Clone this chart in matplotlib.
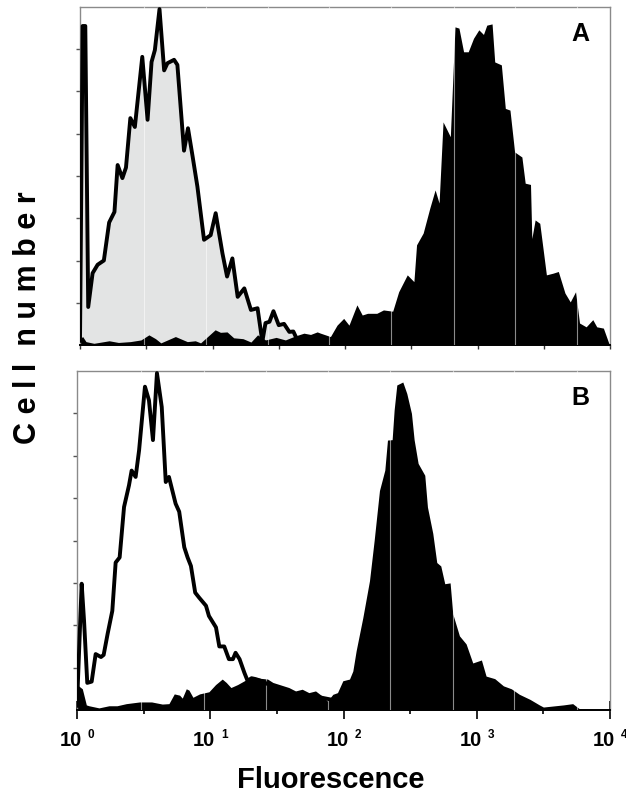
import numpy as np
import matplotlib
matplotlib.use("Agg")
import matplotlib.pyplot as plt
from matplotlib.ticker import FixedLocator, NullFormatter

plt.rcParams['font.family'] = ['Liberation Sans', 'DejaVu Sans']

# Painel A - controle (cinza) e amostra marcada (preto), x em log10
a_ctrl_log = [0.0, 0.02, 0.04, 0.062, 0.095, 0.133, 0.18, 0.22, 0.26, 0.284, 0.32, 0.347,
              0.38, 0.414, 0.47, 0.51, 0.54, 0.565, 0.60, 0.635, 0.66, 0.71, 0.735, 0.785,
              0.815, 0.85, 0.886, 0.936, 0.986, 1.024, 1.075, 1.11, 1.15, 1.19, 1.24, 1.29,
              1.34, 1.376, 1.40, 1.43, 1.46, 1.50, 1.54, 1.58, 1.61, 1.64, 1.75]
a_ctrl_val = [0.1, 7.55, 7.55, 0.9, 1.7, 1.9, 2.0, 2.9, 3.15, 4.26, 3.95, 4.2,
              5.37, 5.16, 6.82, 5.33, 6.7, 6.98, 7.95, 6.5, 6.67, 6.75, 6.63, 4.6,
              5.13, 4.46, 3.75, 2.49, 2.6, 3.12, 2.17, 1.62, 2.05, 1.14, 1.34, 0.83,
              0.87, 0.08, 0.52, 0.55, 0.8, 0.47, 0.5, 0.31, 0.32, 0.12, 0.05]

a_amostra_log = [0.0, 0.02, 0.045, 0.105, 0.22, 0.29, 0.38, 0.46, 0.52, 0.57, 0.61, 0.72,
                 0.81, 0.87, 0.91, 1.02, 1.06, 1.11, 1.16, 1.23, 1.29, 1.34, 1.40, 1.48,
                 1.55, 1.63, 1.69, 1.74, 1.79, 1.815, 1.89, 1.94, 1.99, 2.03, 2.09, 2.13,
                 2.17, 2.24, 2.29, 2.36, 2.405, 2.47, 2.52, 2.54, 2.59, 2.64, 2.68, 2.71,
                 2.74, 2.77, 2.795, 2.83, 2.86, 2.895, 2.93, 2.97, 3.01, 3.045, 3.07, 3.11,
                 3.13, 3.18, 3.21, 3.245, 3.28, 3.335, 3.36, 3.40, 3.41, 3.435, 3.47, 3.52,
                 3.57, 3.61, 3.66, 3.70, 3.74, 3.77, 3.82, 3.87, 3.90, 3.95, 3.99, 4.0]
a_amostra_val = [0.15, 0.2, 0.08, 0.04, 0.1, 0.06, 0.08, 0.12, 0.24, 0.15, 0.05, 0.2,
                 0.08, 0.1, 0.05, 0.36, 0.3, 0.31, 0.17, 0.15, 0.07, 0.24, 0.12, 0.18,
                 0.12, 0.22, 0.28, 0.25, 0.31, 0.28, 0.2, 0.47, 0.63, 0.47, 0.95, 0.71,
                 0.75, 0.75, 0.83, 0.8, 1.26, 1.66, 1.5, 2.37, 2.65, 3.24, 3.67, 3.36,
                 5.28, 5.09, 4.93, 7.53, 7.5, 6.94, 6.94, 7.26, 7.46, 7.35, 7.57, 7.6,
                 6.7, 6.63, 5.6, 5.56, 4.57, 4.45, 3.83, 3.8, 2.52, 2.96, 2.88, 1.66,
                 1.7, 1.74, 1.23, 1.02, 1.26, 0.52, 0.43, 0.6, 0.43, 0.4, 0.05, 0.0]

# Painel B - controle (contorno) e amostra marcada (preto)
b_ctrl_log = [0.0, 0.035, 0.053, 0.077, 0.11, 0.14, 0.18, 0.20, 0.23, 0.265, 0.29, 0.32,
              0.353, 0.39, 0.41, 0.44, 0.466, 0.51, 0.54, 0.57, 0.60, 0.636, 0.666, 0.69,
              0.74, 0.767, 0.805, 0.83, 0.855, 0.887, 0.917, 0.968, 0.99, 1.043, 1.068,
              1.105, 1.14, 1.17, 1.19, 1.22, 1.256, 1.28, 1.31, 1.34, 1.37, 1.44, 1.56,
              1.67, 1.82, 1.9]
b_ctrl_val = [0.1, 2.98, 2.1, 0.64, 0.67, 1.32, 1.25, 1.3, 1.8, 2.34, 3.48, 3.6,
              4.79, 5.3, 5.65, 5.5, 6.13, 7.63, 7.31, 6.37, 7.95, 7.15, 5.38, 5.5,
              4.87, 4.68, 3.84, 3.6, 3.4, 2.77, 2.65, 2.46, 2.22, 1.95, 1.5,
              1.5, 1.2, 1.2, 1.35, 1.2, 0.88, 0.69, 0.75, 0.73, 0.7, 0.6, 0.45,
              0.35, 0.3, 0.25]

b_amostra_log = [0.0, 0.04, 0.07, 0.09, 0.165, 0.24, 0.30, 0.37, 0.47, 0.56, 0.64, 0.69,
                 0.73, 0.77, 0.79, 0.82, 0.84, 0.87, 0.92, 0.99, 1.04, 1.09, 1.12, 1.155,
                 1.205, 1.256, 1.306, 1.37, 1.43, 1.47, 1.52, 1.59, 1.64, 1.69, 1.74, 1.79,
                 1.84, 1.88, 1.92, 1.955, 1.995, 2.045, 2.07, 2.095, 2.145, 2.195, 2.23, 2.27,
                 2.31, 2.33, 2.365, 2.38, 2.40, 2.445, 2.475, 2.51, 2.53, 2.56, 2.61, 2.63,
                 2.67, 2.70, 2.73, 2.76, 2.80, 2.82, 2.87, 2.92, 2.97, 3.035, 3.07, 3.135,
                 3.20, 3.26, 3.32, 3.40, 3.47, 3.50, 3.59, 3.65, 3.72, 3.77, 3.89, 4.0]
b_amostra_val = [0.6, 0.5, 0.12, 0.1, 0.05, 0.1, 0.1, 0.15, 0.19, 0.19, 0.14, 0.15,
                 0.38, 0.35, 0.28, 0.5, 0.47, 0.3, 0.38, 0.43, 0.6, 0.73, 0.65, 0.53,
                 0.6, 0.69, 0.77, 0.75, 0.73, 0.65, 0.6, 0.53, 0.45, 0.49, 0.41, 0.45,
                 0.33, 0.21, 0.37, 0.41, 0.69, 0.73, 0.92, 1.4, 2.18, 3.05, 4.0, 5.18,
                 5.66, 6.37, 6.38, 7.08, 7.67, 7.74, 7.47, 7.0, 6.38, 5.82, 5.54, 4.79,
                 4.17, 3.48, 3.4, 2.98, 3.0, 2.27, 1.75, 1.56, 1.11, 1.18, 0.8, 0.74,
                 0.57, 0.5, 0.37, 0.25, 0.12, 0.07, 0.1, 0.12, 0.15, 0.03, 0.02, 0.02]

decadas = [0, 1, 2, 3, 4]
meias_decadas = [0.5, 1.5, 2.5, 3.5]
linhas_grade = [0.48, 0.95, 1.42, 1.88, 2.35, 2.82, 3.28, 3.75]

fig = plt.figure(figsize=(6.26, 7.97), dpi=100)
ax_a = fig.add_axes([80 / 626, 1 - 345 / 797, 530 / 626, 338 / 797])
ax_b = fig.add_axes([77 / 626, 1 - 710 / 797, 533 / 626, 339 / 797])


def preparar(ax):
    ax.set_xscale('log')
    ax.set_xlim(1, 1e4)
    ax.set_ylim(0, 8)
    for lado in ['top', 'right', 'left']:
        ax.spines[lado].set_color('#8a8a8a')
        ax.spines[lado].set_linewidth(1.0)
    ax.spines['bottom'].set_color('black')
    ax.spines['bottom'].set_linewidth(1.4)
    ax.yaxis.set_major_locator(FixedLocator(range(1, 8)))
    ax.yaxis.set_major_formatter(NullFormatter())
    ax.tick_params(axis='y', direction='out', length=3, width=1, color='#555555')
    for g in linhas_grade:
        ax.axvline(10 ** g, color='white', alpha=0.55, lw=0.8, zorder=3)


# Painel A
preparar(ax_a)
xa_c = 10 ** np.array(a_ctrl_log)
xa_s = 10 ** np.array(a_amostra_log)
ax_a.fill_between(xa_c, 0, a_ctrl_val, color='#e3e4e4', lw=0, zorder=1)
ax_a.fill_between(xa_s, 0, a_amostra_val, color='black', lw=0, zorder=2)
ax_a.plot(xa_c, a_ctrl_val, color='black', lw=2.8, zorder=4)
ax_a.xaxis.set_major_locator(FixedLocator([10 ** d for d in decadas + meias_decadas]))
ax_a.xaxis.set_minor_locator(FixedLocator([]))
ax_a.xaxis.set_major_formatter(NullFormatter())
ax_a.tick_params(axis='x', direction='out', length=3, width=1, color='#333333')

# Painel B
preparar(ax_b)
xb_c = 10 ** np.array(b_ctrl_log)
xb_s = 10 ** np.array(b_amostra_log)
ax_b.fill_between(xb_s, 0, b_amostra_val, color='black', lw=0, zorder=2)
ax_b.plot(xb_c, b_ctrl_val, color='black', lw=2.8, zorder=4)
ax_b.xaxis.set_major_locator(FixedLocator([10 ** d for d in decadas]))
ax_b.xaxis.set_major_formatter(NullFormatter())
ax_b.xaxis.set_minor_locator(FixedLocator([10 ** d for d in meias_decadas]))
ax_b.xaxis.set_minor_formatter(NullFormatter())
ax_b.tick_params(axis='x', which='major', direction='inout', length=13, width=1.2,
                 color='black')
ax_b.tick_params(axis='x', which='minor', direction='out', length=3, width=1.2,
                 color='black')

# rótulos 10^n feitos à mão: "10" + expoente pequeno
pt = 72 / 100
for d in decadas:
    ax_b.annotate('10', xy=(10 ** d, 0), xycoords=('data', 'axes fraction'),
                  xytext=(5 * pt, -36 * pt), textcoords='offset points',
                  ha='right', va='baseline', fontsize=14.5, fontweight='bold',
                  annotation_clip=False)
    ax_b.annotate(str(d), xy=(10 ** d, 0), xycoords=('data', 'axes fraction'),
                  xytext=(11 * pt, -28 * pt), textcoords='offset points',
                  ha='left', va='baseline', fontsize=8.5, fontweight='bold',
                  annotation_clip=False)

fig.text(580 / 626, 1 - 34 / 797, 'A', fontsize=18, fontweight='bold',
         ha='center', va='center')
fig.text(580 / 626, 1 - 398 / 797, 'B', fontsize=18, fontweight='bold',
         ha='center', va='center')
fig.text(28 / 626, 1 - 318 / 797, 'C e l l  n u m b e r', fontsize=22,
         fontweight='bold', rotation=90, ha='center', va='center')
fig.text(331 / 626, 1 - 780 / 797, 'Fluorescence', fontsize=21,
         fontweight='bold', ha='center', va='center')

fig.savefig('out.png', dpi=100)
